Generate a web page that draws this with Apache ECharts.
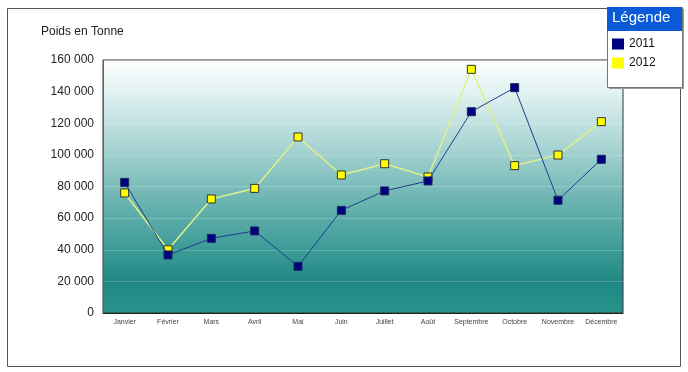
<!DOCTYPE html>
<html>
<head>
<meta charset="utf-8">
<script src="https://cdn.jsdelivr.net/npm/echarts@6/dist/echarts.min.js"></script>
<style>html,body{margin:0;padding:0;background:#fff}#c{width:688px;height:372px}</style>
</head>
<body>
<div id="c"></div>
<script>
const categories = ['Janvier','Février','Mars','Avril','Mai','Juin','Juillet','Août','Septembre','Octobre','Novembre','Décembre'];
const values2011 = [82600, 36700, 47200, 51900, 29500, 64900, 77200, 83500, 127300, 142500, 71300, 97200];
const values2012 = [75900, 40000, 72100, 78800, 111300, 87300, 94400, 86000, 154100, 93200, 99900, 121000];
const seriesNames = ['2011', '2012'];
const yTicks = [0, 20000, 40000, 60000, 80000, 100000, 120000, 140000, 160000];

const FONT = 'Arial, "Liberation Sans", sans-serif';
const fmt = v => String(v).replace(/\B(?=(\d{3})+(?!\d))/g, ' ');

const chart = echarts.init(document.getElementById('c'), null, {renderer: 'canvas'});
chart.setOption({
  animation: false,
  backgroundColor: '#ffffff',
  grid: {
    left: 103, top: 60, width: 520, height: 253,
    show: true,
    borderColor: '#333',
    borderWidth: 1,
    backgroundColor: new echarts.graphic.LinearGradient(0, 0, 0, 1, [
      {offset: 0, color: '#ffffff'},
      {offset: 0.15, color: '#dcefef'},
      {offset: 0.35, color: '#a6d3d2'},
      {offset: 0.55, color: '#6db5b2'},
      {offset: 0.75, color: '#3c9b97'},
      {offset: 0.88, color: '#1f8884'},
      {offset: 1, color: '#2a928d'}
    ])
  },
  xAxis: {
    type: 'category',
    data: categories,
    boundaryGap: true,
    axisLine: {show: true, lineStyle: {color: '#222', width: 1}},
    axisTick: {show: false},
    axisLabel: {fontSize: 7, color: '#444', fontFamily: FONT, margin: 6, interval: 0}
  },
  yAxis: {
    type: 'value',
    min: yTicks[0],
    max: yTicks[yTicks.length - 1],
    interval: yTicks[1] - yTicks[0],
    axisLine: {show: true, lineStyle: {color: '#666'}},
    axisTick: {show: false},
    axisLabel: {fontSize: 12, color: '#222', fontFamily: FONT, margin: 9, formatter: v => fmt(v)},
    splitLine: {show: true, lineStyle: {color: 'rgba(255,255,255,0.2)', width: 1}}
  },
  legend: {
    orient: 'vertical',
    left: 612, top: 38,
    padding: 0,
    itemWidth: 12, itemHeight: 11, itemGap: 7,
    icon: 'rect',
    textStyle: {fontSize: 12, color: '#111', fontFamily: FONT},
    data: [
      {name: seriesNames[0], itemStyle: {color: '#000080', borderWidth: 0}},
      {name: seriesNames[1], itemStyle: {color: '#ffff00', borderWidth: 0}}
    ]
  },
  graphic: [
    {type: 'rect', left: 5, top: 6, z: -1, shape: {width: 673, height: 358}, style: {fill: 'none', stroke: '#555', lineWidth: 1}},
    {type: 'text', left: 41, top: 26, style: {text: 'Poids en Tonne', font: '12px ' + FONT, fill: '#222'}},
    {type: 'rect', left: 609, top: 9, z: 1, shape: {width: 75, height: 80}, style: {fill: '#999'}},
    {type: 'rect', left: 607, top: 7, z: 2, shape: {width: 75, height: 80}, style: {fill: '#fff', stroke: '#777', lineWidth: 1}},
    {type: 'rect', left: 607, top: 7, z: 3, shape: {width: 75, height: 24}, style: {fill: '#0a5ad8'}},
    {type: 'text', left: 612, top: 10, z: 4, style: {text: 'Légende', font: '15px ' + FONT, fill: '#fff'}}
  ],
  series: [
    {
      name: seriesNames[0], type: 'line', data: values2011,
      symbol: 'rect', symbolSize: 8,
      lineStyle: {color: '#1d3f8c', width: 1},
      itemStyle: {color: '#000080', borderColor: '#1a2a5a', borderWidth: 1},
      z: 3
    },
    {
      name: seriesNames[1], type: 'line', data: values2012,
      symbol: 'rect', symbolSize: 8,
      lineStyle: {color: '#e0f088', width: 1.5},
      itemStyle: {color: '#ffff00', borderColor: '#333', borderWidth: 1},
      z: 2
    }
  ]
});
</script>
</body>
</html>
